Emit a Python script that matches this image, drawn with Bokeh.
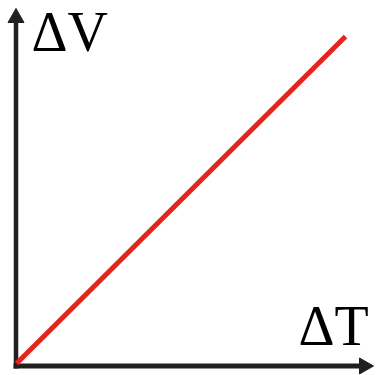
from bokeh.plotting import figure
from bokeh.models import Range1d
from bokeh.core.properties import value
from bokeh.embed import file_html
from bokeh.resources import INLINE

# schematic data (drawing units, y up)
line_x = [16, 345]
line_y = [12, 339]
xaxis_x = [13, 362]
xaxis_y = [9.5, 9.5]
yaxis_x = [15.5, 15.5]
yaxis_y = [7, 354]
labels = ["ΔV", "ΔT"]
label_x = [31, 298]
label_y = [375, 81]

p = figure(width=378, height=375, output_backend="svg", toolbar_location=None,
           x_range=Range1d(0, 378), y_range=Range1d(0, 375),
           min_border=0, border_fill_color="white", outline_line_color=None)
p.axis.visible = False
p.grid.visible = False

axis_col = "#231f20"
p.line(xaxis_x, xaxis_y, line_width=5, line_color=axis_col)
p.line(yaxis_x, yaxis_y, line_width=4.5, line_color=axis_col)
# arrowheads
p.patch([359, 373, 359], [17.5, 9.5, 1.5], fill_color=axis_col, line_color=axis_col)
p.patch([7.5, 15.5, 23.5], [353, 367, 353], fill_color=axis_col, line_color=axis_col)

p.line(line_x, line_y, line_width=5, line_color="#e2261c")

p.text(label_x, label_y, text=labels, text_font=value("Liberation Serif"),
       text_font_size="56px", text_color="black", text_baseline="top")

open("out.html", "w").write(file_html(p, INLINE))
